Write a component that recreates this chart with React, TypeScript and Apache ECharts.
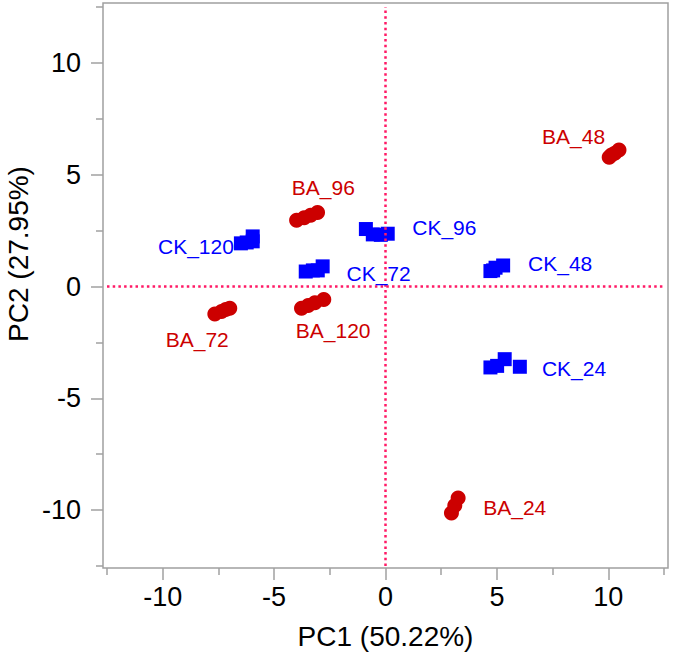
import React, { useEffect, useRef } from "react";
import * as echarts from "echarts";

// BA groups (red circles): [PC1, PC2]
const ba24 = [[2.96, -10.13], [3.11, -9.79], [3.26, -9.46]];
const ba48 = [[10.04, 5.78], [10.14, 5.88], [10.29, 5.96], [10.48, 6.1]];
const ba72 = [[-7.66, -1.23], [-7.36, -1.12], [-7.17, -1.03], [-6.99, -0.97]];
const ba96 = [[-3.99, 2.96], [-3.65, 3.07], [-3.36, 3.19], [-3.05, 3.31]];
const ba120 = [[-3.77, -0.97], [-3.47, -0.85], [-3.17, -0.73], [-2.77, -0.58]];

// CK groups (blue squares)
const ck24 = [[4.71, -3.62], [5.01, -3.55], [5.35, -3.25], [6.03, -3.59]];
const ck48 = [[4.71, 0.69], [4.83, 0.72], [4.94, 0.84], [5.28, 0.94]];
const ck72 = [[-3.58, 0.67], [-3.26, 0.72], [-3.04, 0.72], [-2.82, 0.9]];
const ck96 = [[-0.88, 2.57], [-0.57, 2.33], [-0.21, 2.31], [0.1, 2.36]];
const ck120 = [[-6.49, 1.93], [-6.23, 1.97], [-5.96, 2.24], [-5.96, 2.02]];

// group labels and where they sit
const baLabelNames = ["BA_24", "BA_48", "BA_72", "BA_96", "BA_120"];
const baLabelPos = [[5.8, -9.87], [8.44, 6.7], [-8.45, -2.36], [-2.79, 4.42], [-2.35, -1.97]];
const ckLabelNames = ["CK_24", "CK_48", "CK_72", "CK_96", "CK_120"];
const ckLabelPos = [[8.46, -3.66], [7.84, 1.02], [-0.31, 0.57], [2.64, 2.63], [-8.51, 1.8]];

const majorTicks = [-10, -5, 0, 5, 10];
const minorTicks = [-12.5, -7.5, -2.5, 2.5, 7.5, 12.5];
const axisMin = -12.5;
const axisMax = 12.5;

const RED = "#cc0000";
const BLUE = "#0000ff";
const GREY = "#a0a0a0";
const FONT = "'Liberation Sans', Arial, sans-serif";

export default function App() {
  const ref = useRef<HTMLDivElement>(null);
  useEffect(() => {
    if (!ref.current) return;
    const chart = echarts.init(ref.current, null, { renderer: "svg" });
    const baAll = [...ba24, ...ba48, ...ba72, ...ba96, ...ba120];
    const ckAll = [...ck24, ...ck48, ...ck72, ...ck96, ...ck120];
    const majorAxis = (dim: "x" | "y") => ({
      type: "value",
      min: axisMin,
      max: axisMax,
      position: dim === "x" ? "bottom" : "left",
      offset: dim === "x" ? 2 : 4,
      axisLine: { show: false, onZero: false },
      splitLine: { show: false },
      axisTick: {
        show: true,
        customValues: majorTicks,
        length: 12,
        lineStyle: { color: GREY, width: 1.5 },
      },
      axisLabel: {
        customValues: majorTicks,
        color: "#000",
        fontSize: 27,
        fontFamily: FONT,
        margin: dim === "x" ? 15 : 22,
      },
    });
    const minorAxis = (dim: "x" | "y") => ({
      type: "value",
      min: axisMin,
      max: axisMax,
      position: dim === "x" ? "bottom" : "left",
      offset: dim === "x" ? 2 : 4,
      axisLine: { show: false, onZero: false },
      splitLine: { show: false },
      axisTick: {
        show: true,
        customValues: minorTicks,
        length: 7,
        lineStyle: { color: GREY, width: 1.5 },
      },
      axisLabel: { show: false },
    });
    const labelSeries = (names: string[], pos: number[][], color: string) => ({
      type: "scatter",
      symbolSize: 0,
      silent: true,
      itemStyle: { opacity: 1 },
      data: names.map((n, i) => ({ name: n, value: pos[i] })),
      label: {
        show: true,
        position: "inside",
        formatter: (p: any) => p.name,
        color,
        opacity: 1,
        fontSize: 21,
        fontFamily: FONT,
      },
      z: 5,
    });
    chart.setOption({
      animation: false,
      grid: { left: 107, right: 11, top: 7, bottom: 91, containLabel: false },
      xAxis: [
        {
          ...majorAxis("x"),
          name: "PC1 (50.22%)",
          nameLocation: "middle",
          nameGap: 54,
          nameTextStyle: { color: "#000", fontSize: 28, fontFamily: FONT },
        },
        minorAxis("x"),
      ],
      yAxis: [majorAxis("y"), minorAxis("y")],
      graphic: [
        {
          type: "rect",
          shape: { x: 103, y: 3, width: 565, height: 565 },
          style: { fill: "none", stroke: GREY, lineWidth: 1.5 },
          silent: true,
          z: 0,
        },
        {
          type: "text",
          x: 18,
          y: 254,
          rotation: Math.PI / 2,
          style: {
            text: "PC2 (27.95%)",
            fill: "#000",
            font: `28px ${FONT}`,
            textAlign: "center",
            textVerticalAlign: "middle",
          },
        },
      ],
      series: [
        {
          type: "scatter",
          data: [],
          silent: true,
          markLine: {
            silent: true,
            symbol: "none",
            label: { show: false },
            lineStyle: { color: "#ff1a66", type: [2.5, 3.2], width: 2.5, cap: "butt", opacity: 1 },
            data: [{ xAxis: 0 }, { yAxis: 0 }],
          },
        },
        {
          type: "scatter",
          symbol: "circle",
          symbolSize: 15,
          itemStyle: { color: RED, opacity: 1 },
          data: baAll,
          z: 3,
        },
        {
          type: "scatter",
          symbol: "rect",
          symbolSize: 14,
          itemStyle: { color: BLUE, opacity: 1 },
          data: ckAll,
          z: 3,
        },
        labelSeries(baLabelNames, baLabelPos, RED),
        labelSeries(ckLabelNames, ckLabelPos, BLUE),
      ],
    });
    return () => chart.dispose();
  }, []);
  return (
    <div
      ref={ref}
      style={{ position: "fixed", left: 0, top: 0, width: 675, height: 657, background: "#fff" }}
    />
  );
}
